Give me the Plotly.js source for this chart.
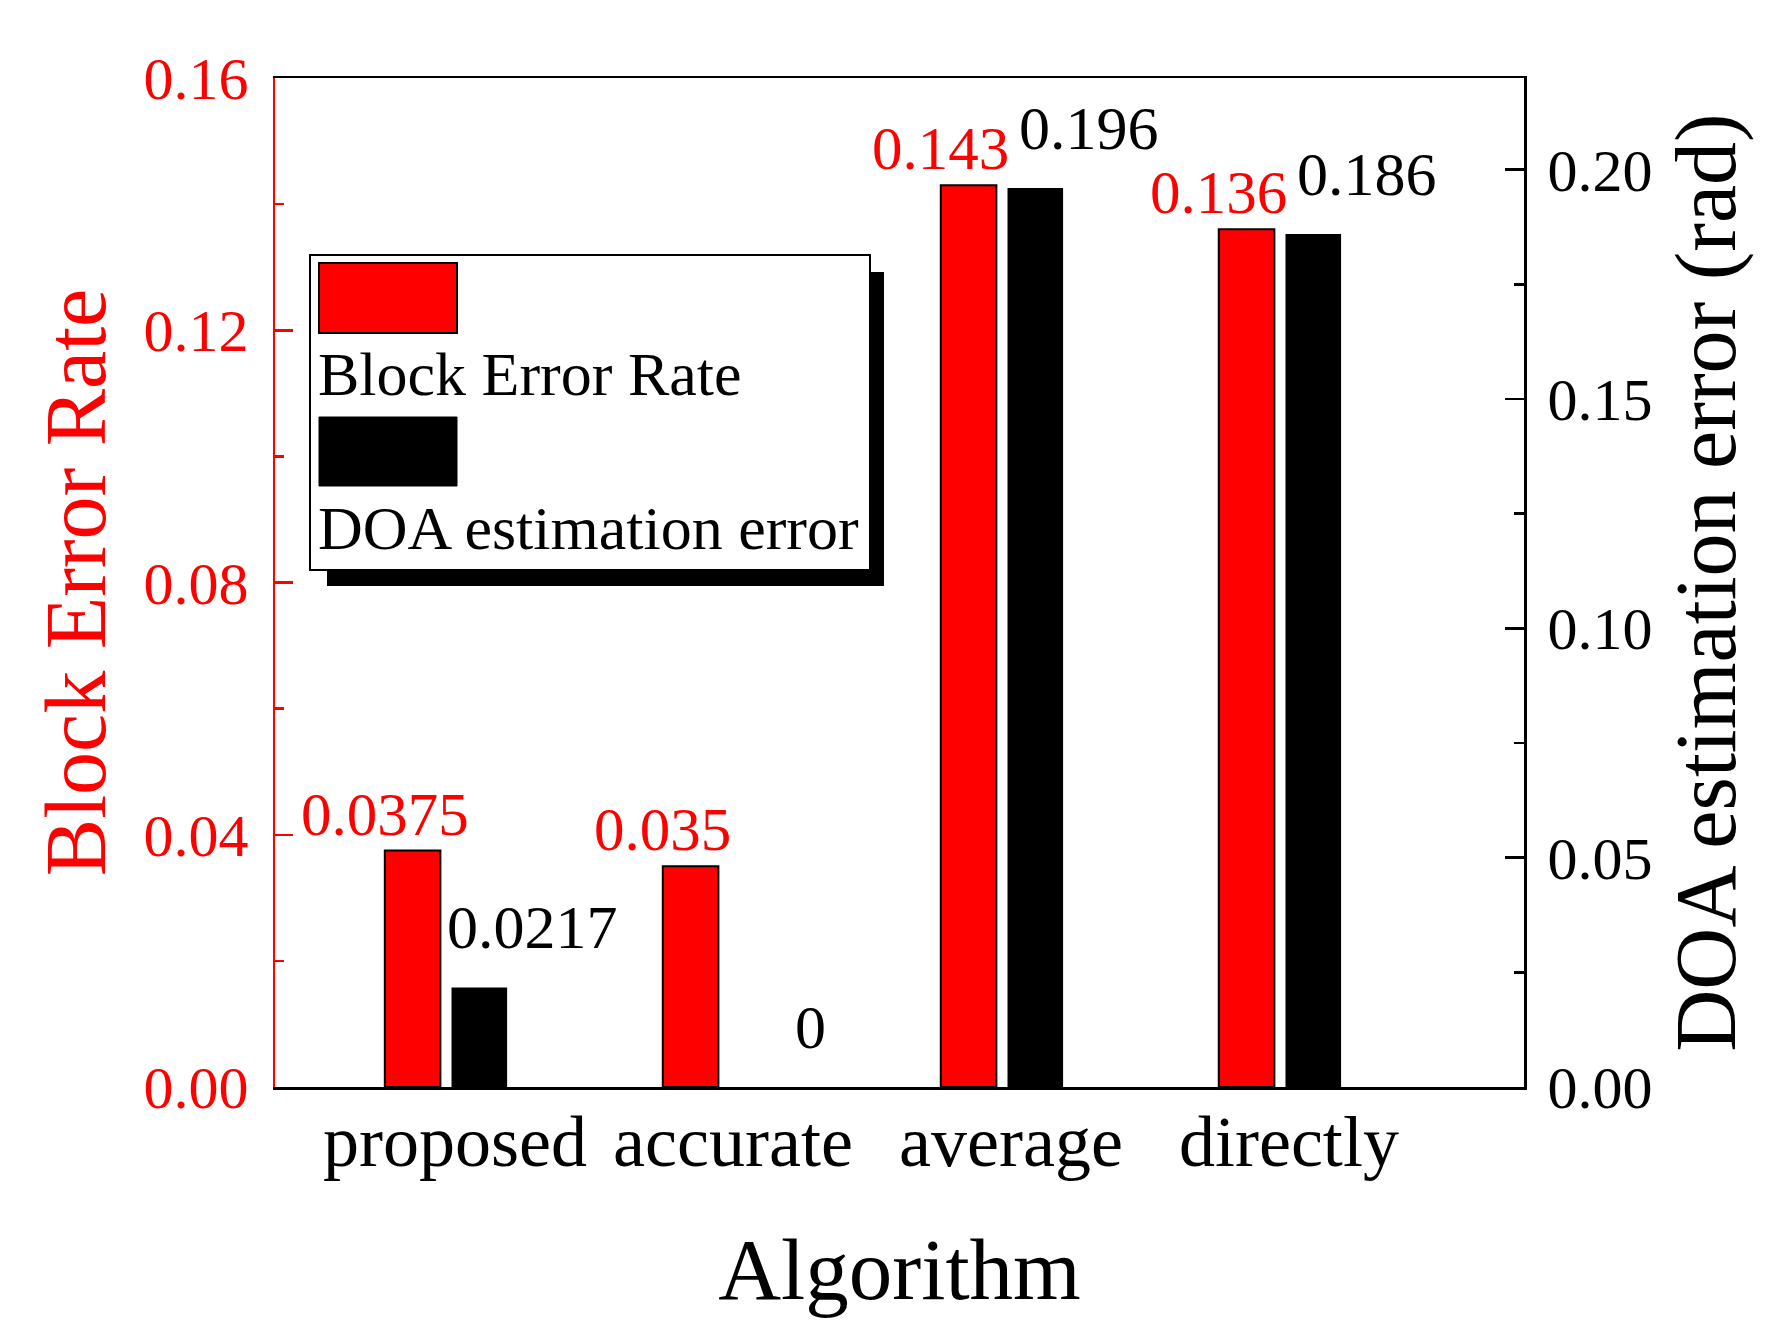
<!DOCTYPE html>
<html>
<head>
<meta charset="utf-8">
<script src="https://cdn.plot.ly/plotly-3.0.1.min.js"></script>
<style>html,body{margin:0;padding:0;background:#fff;}#chart{width:1774px;height:1341px;}</style>
</head>
<body>
<div id="chart"></div>
<script>
const categories = ['proposed', 'accurate', 'average', 'directly'];
const blerValues = [0.0375, 0.035, 0.143, 0.136];
const doaValues = [0.0217, 0, 0.196, 0.186];
const blerLabels = ['0.0375', '0.035', '0.143', '0.136'];
const doaLabels = ['0.0217', '0', '0.196', '0.186'];
const seriesNames = ['Block Error Rate', 'DOA estimation error'];

const FONT = 'Liberation Serif, Times New Roman, serif';
const RED = '#ff0000';
const W = 1774, H = 1341;
const M = {l: 275, r: 250, t: 78, b: 254};
const PW = W - M.l - M.r, PH = H - M.t - M.b;
const px = x => (x - M.l) / PW;
const py = y => (H - M.b - y) / PH;

const traces = [
  {type: 'bar', name: seriesNames[0], x: categories, y: blerValues, yaxis: 'y',
   width: 0.2, offset: -0.22,
   marker: {color: RED, line: {color: '#000', width: 2}}, showlegend: false},
  {type: 'bar', name: seriesNames[1], x: categories, y: doaValues, yaxis: 'y2',
   width: 0.2, offset: 0.02,
   marker: {color: '#000', line: {color: '#000', width: 0}}, showlegend: false}
];

const annotations = [];
categories.forEach((c, i) => {
  annotations.push({x: c, y: blerValues[i], xref: 'x', yref: 'y', text: blerLabels[i],
    showarrow: false, xanchor: 'center', yanchor: 'bottom', xshift: -61, yshift: 1,
    font: {family: FONT, size: 61, color: RED}});
  annotations.push({x: c, y: doaValues[i], xref: 'x', yref: 'y2', text: doaLabels[i],
    showarrow: false, xanchor: 'center', yanchor: 'bottom', xshift: 87, yshift: 24,
    font: {family: FONT, size: 62, color: '#000'}});
});
// custom legend texts
annotations.push({xref: 'paper', yref: 'paper', x: px(316), y: py(374), text: seriesNames[0],
  showarrow: false, xanchor: 'left', yanchor: 'middle', font: {family: FONT, size: 62, color: '#000'}});
annotations.push({xref: 'paper', yref: 'paper', x: px(316), y: py(528), text: seriesNames[1],
  showarrow: false, xanchor: 'left', yanchor: 'middle', font: {family: FONT, size: 62, color: '#000'}});

const shapes = [
  {type: 'rect', xref: 'paper', yref: 'paper', x0: px(327), x1: px(884), y0: py(272), y1: py(586),
   fillcolor: '#000', line: {width: 0}, layer: 'above'},
  {type: 'rect', xref: 'paper', yref: 'paper', x0: px(310), x1: px(870), y0: py(255), y1: py(570),
   fillcolor: '#fff', line: {color: '#000', width: 2}, layer: 'above'},
  {type: 'rect', xref: 'paper', yref: 'paper', x0: px(319), x1: px(457), y0: py(263), y1: py(333),
   fillcolor: RED, line: {color: '#000', width: 2}, layer: 'above'},
  {type: 'rect', xref: 'paper', yref: 'paper', x0: px(319), x1: px(457), y0: py(417), y1: py(486),
   fillcolor: '#000', line: {color: '#000', width: 1}, layer: 'above'}
];

const layout = {
  width: W, height: H,
  margin: M,
  paper_bgcolor: '#fff', plot_bgcolor: '#fff',
  font: {family: FONT, color: '#000'},
  showlegend: false,
  xaxis: {
    type: 'category', range: [-0.615, 3.878], fixedrange: true,
    showline: true, linecolor: '#000', linewidth: 2.5, mirror: true,
    ticks: '', showgrid: false, zeroline: false,
    tickfont: {family: FONT, size: 72, color: '#000'},
    ticklabelstandoff: -10,
    ticklabelshift: 9,
    title: {text: 'Algorithm', font: {family: FONT, size: 87, color: '#000'}, standoff: 57}
  },
  yaxis: {
    range: [0, 0.16], dtick: 0.04, tick0: 0, tickformat: '.2f',
    showline: true, linecolor: RED, linewidth: 2.5,
    ticks: 'inside', ticklen: 18, tickwidth: 2.5, tickcolor: RED,
    minor: {ticks: 'inside', ticklen: 9, tickwidth: 2.5, tickcolor: RED, dtick: 0.02, showgrid: false},
    showgrid: false, zeroline: false,
    tickfont: {family: FONT, size: 60, color: RED},
    ticklabelstandoff: 12,
    title: {text: 'Block Error Rate', font: {family: FONT, size: 86, color: RED}, standoff: 10}
  },
  yaxis2: {
    overlaying: 'y', side: 'right',
    range: [0, 0.22], dtick: 0.05, tick0: 0, tickformat: '.2f',
    showline: true, linecolor: '#000', linewidth: 2.5,
    ticks: 'inside', ticklen: 19, tickwidth: 2.5, tickcolor: '#000',
    minor: {ticks: 'inside', ticklen: 10, tickwidth: 2.5, tickcolor: '#000', dtick: 0.025, showgrid: false},
    showgrid: false, zeroline: false,
    tickfont: {family: FONT, size: 60, color: '#000'},
    ticklabelstandoff: 9,
    title: {text: 'DOA estimation error (rad)', font: {family: FONT, size: 86, color: '#000'}, standoff: 24}
  },
  annotations: annotations,
  shapes: shapes
};

Plotly.newPlot('chart', traces, layout, {displayModeBar: false, staticPlot: true});
</script>
</body>
</html>
